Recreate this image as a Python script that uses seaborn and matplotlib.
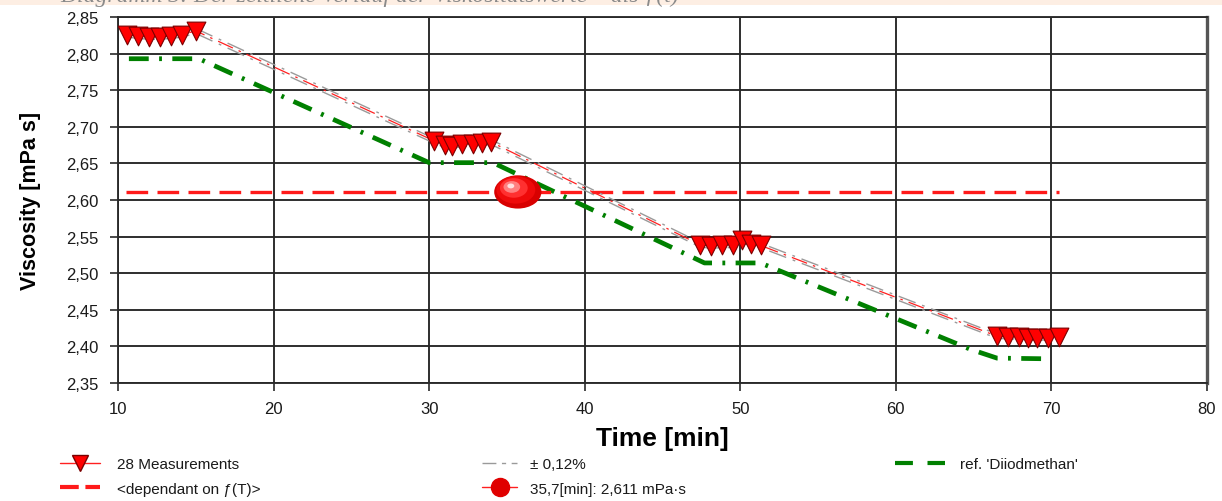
import numpy as np
import pandas as pd
import matplotlib
matplotlib.use("Agg")
import matplotlib.pyplot as plt
import seaborn as sns
from matplotlib.lines import Line2D
from matplotlib.path import Path
from matplotlib.patches import Rectangle
from matplotlib.transforms import Affine2D, ScaledTranslation
from matplotlib.ticker import FuncFormatter

# ---------------- data ----------------
meas_time = [10.6, 11.3, 12.0, 12.7, 13.4, 14.1, 15.0,
             30.3, 31.0, 31.5, 32.1, 32.8, 33.4, 34.0,
             47.4, 48.1, 48.8, 49.5, 50.1, 50.7, 51.3,
             66.5, 67.2, 67.9, 68.5, 69.1, 69.8, 70.5]
meas_visc = [2.826, 2.824, 2.823, 2.823, 2.824, 2.826, 2.831,
             2.681, 2.675, 2.674, 2.676, 2.677, 2.678, 2.679,
             2.539, 2.537, 2.538, 2.538, 2.545, 2.540, 2.538,
             2.414, 2.413, 2.413, 2.412, 2.411, 2.412, 2.413]
tolerance_pct = 0.12

ref_time = [10.7, 15.2, 30.0, 34.1, 47.7, 51.3, 64.8, 66.5, 70.0]
ref_visc = [2.793, 2.793, 2.651, 2.651, 2.514, 2.514, 2.396, 2.384, 2.383]

dep_time = [10.5, 70.5]
dep_visc = [2.611, 2.611]

point_time = [35.7]
point_visc = [2.611]

x_ticks = [10, 20, 30, 40, 50, 60, 70, 80]
y_ticks = [2.35, 2.40, 2.45, 2.50, 2.55, 2.60, 2.65, 2.70, 2.75, 2.80, 2.85]

title_text = "Diagramm 3: Der zeitliche Verlauf der Viskositätswerte – als ƒ(t)"
x_label = "Time [min]"
y_label = "Viscosity [mPa s]"
legend_labels = ["28 Measurements", "<dependant on ƒ(T)>", "± 0,12%",
                 "35,7[min]: 2,611 mPa·s", "ref. 'Diiodmethan'"]

# ---------------- style ----------------
sns.set_theme(style="white")
plt.rcParams['font.family'] = ['Liberation Sans', 'DejaVu Sans']

W, H = 1222, 502
fig = plt.figure(figsize=(W / 100, H / 100), dpi=100)
fig.patch.set_facecolor("white")

# top strip with cut-off caption (as in the reference)
fig.patches.append(Rectangle((0, 1 - 6 / H), 1, 6 / H, transform=fig.transFigure,
                             facecolor="#fdeee3", edgecolor="none", zorder=0))
fig.text(60 / W, 1 - 2 / H, title_text, fontstyle="italic",
         family=["Liberation Serif", "DejaVu Serif"], color="#8a8a8a",
         fontsize=17, va="baseline", ha="left")

left, right, top, bottom = 118, 1207, 18, 384
ax = fig.add_axes([left / W, 1 - bottom / H, (right - left) / W, (bottom - top) / H])

df_meas = pd.DataFrame({"t": meas_time, "v": meas_visc})
df_meas["up"] = df_meas["v"] * (1 + tolerance_pct / 100)
df_meas["lo"] = df_meas["v"] * (1 - tolerance_pct / 100)
df_ref = pd.DataFrame({"t": ref_time, "v": ref_visc})
df_dep = pd.DataFrame({"t": dep_time, "v": dep_visc})
df_pt = pd.DataFrame({"t": point_time, "v": point_visc})

band_dash = (13, 5, 2, 5)
# tolerance band lines
for col in ["up", "lo"]:
    sns.lineplot(data=df_meas, x="t", y=col, ax=ax, color="#9a9a9a", linewidth=1.0,
                 estimator=None, sort=False, zorder=3)
    ax.lines[-1].set_dashes(band_dash)
# measurement connecting line
sns.lineplot(data=df_meas, x="t", y="v", ax=ax, color="#ff2020", linewidth=0.9,
             estimator=None, sort=False, zorder=3)
ax.lines[-1].set_dashes(band_dash)

# reference line
sns.lineplot(data=df_ref, x="t", y="v", ax=ax, color="#008000", linewidth=3.4,
             estimator=None, sort=False, zorder=2)
ax.lines[-1].set_dashes((4.2, 2.2, 0.6, 2.2))
ax.lines[-1].set_dash_capstyle("butt")

# dependant line
sns.lineplot(data=df_dep, x="t", y="v", ax=ax, color="#ff1a1a", linewidth=2.4,
             estimator=None, sort=False, zorder=2)
ax.lines[-1].set_dashes((6.5, 2.8))

# measurement markers
sns.scatterplot(data=df_meas, x="t", y="v", ax=ax, marker="v", s=13.5 ** 2,
                color="#ff0000", edgecolor="#7a0000", linewidth=0.8, zorder=5)

# sphere (ellipse marker with highlight layers)
ell = Path.unit_circle().transformed(Affine2D().scale(1.42, 1.0))
layers = [(34, "#d80000", 0, 0), (28, "#ee0a0a", -2, 2), (20, "#ff3030", -4, 4),
          (12, "#ff8080", -6, 5), (5, "#ffe0e0", -7, 6)]
for size, colr, dx, dy in layers:
    tr = ax.transData + ScaledTranslation(dx / 100, dy / 100, fig.dpi_scale_trans)
    sns.scatterplot(data=df_pt, x="t", y="v", ax=ax, marker=ell, s=size ** 2,
                    color=colr, edgecolor="none", linewidth=0, zorder=6,
                    transform=tr)

# ---------------- axes ----------------
ax.set_xlim(10, 80)
ax.set_ylim(2.35, 2.85)
ax.set_xticks(x_ticks)
ax.set_yticks(y_ticks)
ax.xaxis.set_major_formatter(FuncFormatter(lambda v, p: f"{v:.0f}"))
ax.yaxis.set_major_formatter(FuncFormatter(lambda v, p: f"{v:.2f}".replace(".", ",")))
ax.grid(True, color="#262626", linewidth=1.35)
ax.set_axisbelow(True)
ax.tick_params(axis="both", which="major", direction="out", length=6, width=1.2,
               color="#2a2a2a", labelsize=12, labelcolor="#1a1a1a",
               bottom=True, left=True)
ax.tick_params(axis="x", pad=7)
ax.tick_params(axis="y", pad=8)
for s in ["left", "bottom", "top"]:
    ax.spines[s].set_color("#2a2a2a")
    ax.spines[s].set_linewidth(1.35)
ax.spines["right"].set_color("#555555")
ax.spines["right"].set_linewidth(2.4)

ax.set_xlabel(x_label, fontsize=19, fontweight="bold", color="black", labelpad=7)
ax.set_ylabel(y_label, fontsize=15.5, fontweight="bold", color="black", labelpad=18)

# ---------------- legend ----------------
fs = 11
h_meas = Line2D([], [], color="#ff2020", lw=1, marker="v", ms=12,
                mfc="#ff0000", mec="#7a0000")
h_dep = Line2D([], [], color="#ff1a1a", lw=3, dashes=(4.5, 1.6))
h_tol = Line2D([], [], color="#9a9a9a", lw=1, dashes=(10, 4, 3, 4))
h_pt = Line2D([], [], color="#ff2020", lw=1, marker="o", ms=13,
              mfc="#e00000", mec="#e00000")
h_ref = Line2D([], [], color="#008000", lw=3, dashes=(4.3, 3.5))

common = dict(frameon=False, fontsize=fs, borderpad=0, borderaxespad=0,
              labelspacing=0.7, labelcolor="#1a1a1a")
fig.legend([h_meas, h_dep], legend_labels[0:2], loc="upper left",
           bbox_to_anchor=(60 / W, 1 - 458 / H), handlelength=2.6,
           handletextpad=1.15, **common)
fig.legend([h_tol, h_pt], legend_labels[2:4], loc="upper left",
           bbox_to_anchor=(482 / W, 1 - 458 / H), handlelength=2.3,
           handletextpad=0.85, **common)
fig.legend([h_ref], legend_labels[4:5], loc="upper left",
           bbox_to_anchor=(895 / W, 1 - 458 / H), handlelength=3.3,
           handletextpad=0.95, **common)

fig.savefig("out.png", dpi=100)
